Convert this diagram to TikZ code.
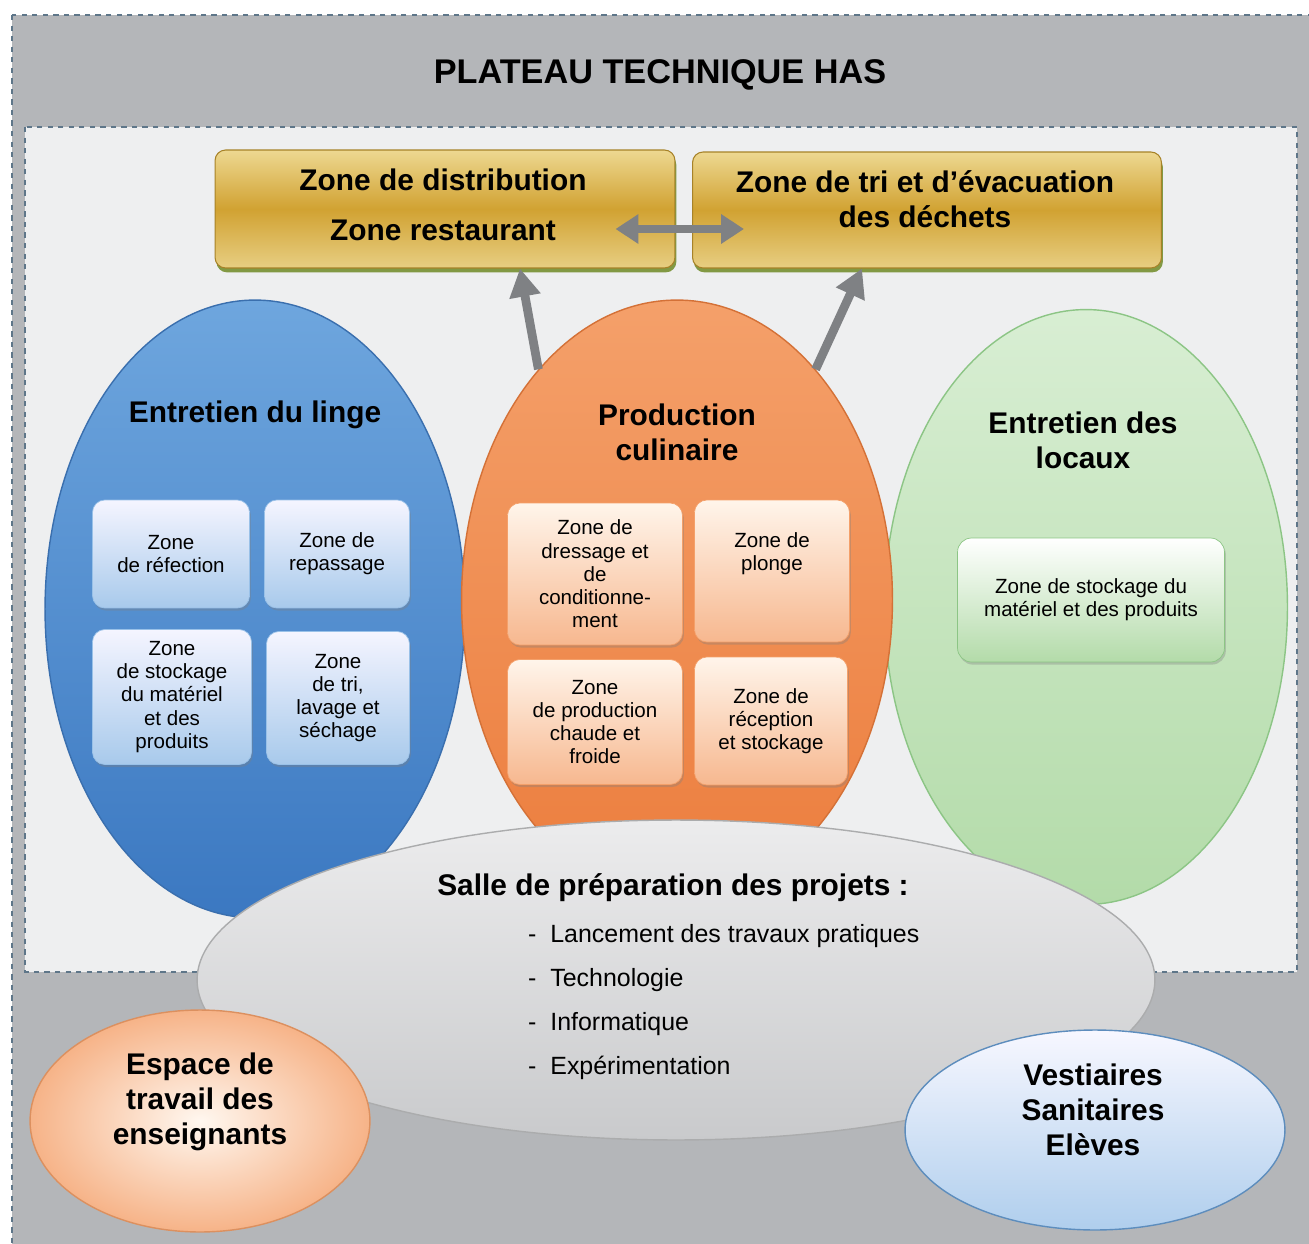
\documentclass[tikz,border=0pt]{standalone}
\usepackage{fontspec}
\setmainfont{Liberation Sans}
\usetikzlibrary{shapes.geometric,shadows,arrows.meta}
\definecolor{fond}{HTML}{B4B6B9}
\definecolor{clair}{HTML}{EEEFF0}
\definecolor{tiret}{HTML}{5E7689}
\definecolor{orh}{HTML}{EDD891}
\definecolor{orm}{HTML}{D1A232}
\definecolor{orb}{HTML}{E7CE82}
\definecolor{bleuh}{HTML}{6EA6DE}
\definecolor{bleub}{HTML}{3B78C1}
\definecolor{bleud}{HTML}{3A6FAE}
\definecolor{orangeh}{HTML}{F4A06A}
\definecolor{orangeb}{HTML}{EC7D3D}
\definecolor{vertph}{HTML}{D8EED3}
\definecolor{vertpb}{HTML}{B3DBA9}
\definecolor{vertd}{HTML}{8CC585}
\definecolor{grish}{HTML}{ECECED}
\definecolor{grisb}{HTML}{C9CACC}
\definecolor{flechec}{HTML}{7F8184}
\tikzset{
    cadre/.style =  {dashed,
                    draw=tiret,
                    line width=0.8pt},
    ovale/.style =  {ellipse,
                    line width=0.8pt,
                    inner sep=0pt},
    dore/.style =   {rectangle,
                    rounded corners=6pt,
                    top color=orh,
                    bottom color=orb,
                    middle color=orm,
                    draw=orm!80!black,
                    line width=0.6pt,
                    drop shadow={shadow xshift=0.8pt,shadow yshift=-2.5pt,fill=black!60!green!50!orm,opacity=0.8}},
    bleu/.style =   {rectangle,
                    rounded corners=7pt,
                    top color=blue!4!white,
                    bottom color=bleuh!60!white,
                    draw=bleuh!70!white,
                    drop shadow={shadow xshift=0.8pt,shadow yshift=-1.5pt,opacity=0.35}},
    saumon/.style = {rectangle,
                    rounded corners=7pt,
                    top color=orange!8!white,
                    bottom color=orangeh!75!white,
                    draw=orangeh,
                    drop shadow={shadow xshift=0.8pt,shadow yshift=-1.5pt,opacity=0.35}},
    vertb/.style =  {rectangle,
                    rounded corners=8pt,
                    top color=white,
                    bottom color=vertpb,
                    draw=vertd,
                    drop shadow={shadow xshift=0.8pt,shadow yshift=-1.5pt,opacity=0.35}},
    titre/.style =  {font=\bfseries\fontsize{17}{19.8}\selectfont,
                    align=center,
                    text=black},
    petit/.style =  {font=\fontsize{11.7}{13.2}\selectfont,
                    align=center,
                    text=black},
    fleche/.style = {draw=flechec,
                    line width=5pt,
                    -{Triangle[length=16pt,width=17pt]}},
    fleches/.style = {draw=flechec,
                    line width=4.5pt,
                    {Triangle[length=13pt,width=16pt]}-{Triangle[length=13pt,width=16pt]}}
}
\begin{document}
\begin{tikzpicture}[x=0.02cm,y=-0.02cm]
            \useasboundingbox (0,0) rectangle (1309,1244);
            \fill[white] (0,0) rectangle (1309,1244);
            \draw[cadre,fill=fond] (12,15) rectangle (1320,1255);
            \draw[cadre,fill=clair] (25,127) rectangle (1297,972);
            \node[font=\bfseries\fontsize{19.5}{22}\selectfont] (plateau) at (660,75) {PLATEAU TECHNIQUE HAS};
            \node[dore,minimum width=9.2cm,minimum height=2.36cm]   (distr) at (445,209) {};
            \node[dore,minimum width=9.38cm,minimum height=2.32cm]  (tri) at (927,210) {};
            \node[titre] at (443,205) {Zone de distribution\\[8.5pt]Zone restaurant};
            \node[titre] at (925,199) {Zone de tri et d’évacuation\\des déchets};
            \draw[fleches] ([xshift=-1.2cm,yshift=-0.4cm]distr.east) -- ([xshift=1.04cm,yshift=-0.38cm]tri.west);
            \node[ovale,top color=bleuh,bottom color=bleub,draw=bleud,minimum width=8.4cm,minimum height=12.36cm]       (linge) at (255,609) {};
            \node[ovale,top color=vertph,bottom color=vertpb,draw=vertd,minimum width=8.06cm,minimum height=11.9cm]    (locaux) at (1086,607) {};
            \node[ovale,top color=orangeh,bottom color=orangeb,draw=orangeb!90!black,minimum width=8.62cm,minimum height=12cm] (prod) at (677,600) {};
            \node[titre]      (lingetitre) at (255,415)   {Entretien du linge};
            \node[titre]      (prodtitre) at (677,432)    {Production\\culinaire};
            \node[titre]      (locauxtitre) at (1083,440) {Entretien des\\locaux};
            \node[bleu,petit,minimum width=3.14cm,minimum height=2.16cm]   (refection) at (171,554) {Zone\\de réfection};
            \node[bleu,petit,minimum width=2.9cm,minimum height=2.16cm]    (repassage) at (337,554) {Zone de\\repassage};
            \node[bleu,petit,minimum width=3.18cm,minimum height=2.7cm]    (stocklinge) at (172,697) {Zone\\de stockage\\du matériel\\et des\\produits};
            \node[bleu,petit,minimum width=2.86cm,minimum height=2.66cm]   (lavage) at (338,698) {Zone\\de tri,\\lavage et\\séchage};
            \node[saumon,petit,minimum width=3.5cm,minimum height=2.84cm]  (dressage) at (595,574) {Zone de\\dressage et\\de\\conditionne-\\ment};
            \node[saumon,minimum width=3.1cm,minimum height=2.84cm]        (plonge) at (772,571) {};
            \node[petit]      (plongetxt) at ([yshift=0.34cm]plonge.center) {Zone de\\plonge};
            \node[saumon,petit,minimum width=3.5cm,minimum height=2.5cm]   (chaud) at (595,722) {Zone\\de production\\chaude et\\froide};
            \node[saumon,petit,minimum width=3.06cm,minimum height=2.56cm] (reception) at (771,721) {Zone de\\réception\\et stockage};
            \node[vertb,petit,minimum width=5.34cm,minimum height=2.48cm]   (stocklocaux) at (1091,600) {Zone de stockage du\\matériel et des produits};
            \draw[fleche] (prod.121) -- ([xshift=1.5cm]distr.south);
            \draw[fleche] (prod.59) -- ([xshift=-1.3cm]tri.south);
            \node[ovale,top color=grish,bottom color=grisb,draw=grisb!85!black,minimum width=19.16cm,minimum height=6.4cm] (salle) at (676,980) {};
            \node[titre]      (salletitre) at (673,888) {Salle de préparation des projets :};
            \node[anchor=west,align=left,font=\fontsize{14.2}{25}\selectfont] (liste) at (522,1002)
                {-\ \ Lancement des travaux pratiques\\-\ \ Technologie\\-\ \ Informatique\\-\ \ Expérimentation};
            \node[ovale,inner color=orange!6!white,outer color=orangeh!80!white,draw=orangeh!90!black,minimum width=6.8cm,minimum height=4.44cm] (espace) at (200,1121) {};
            \node[ovale,top color=blue!3!white,bottom color=bleuh!55!white,draw=bleuh!85!black,minimum width=7.6cm,minimum height=4cm] (vestiaires) at (1095,1130) {};
            \node[titre]      (espacetxt) at (200,1102)     {Espace de\\travail des\\enseignants};
            \node[titre]      (vestiairestxt) at (1093,1110) {Vestiaires\\Sanitaires\\Elèves};
\end{tikzpicture}
\end{document}
